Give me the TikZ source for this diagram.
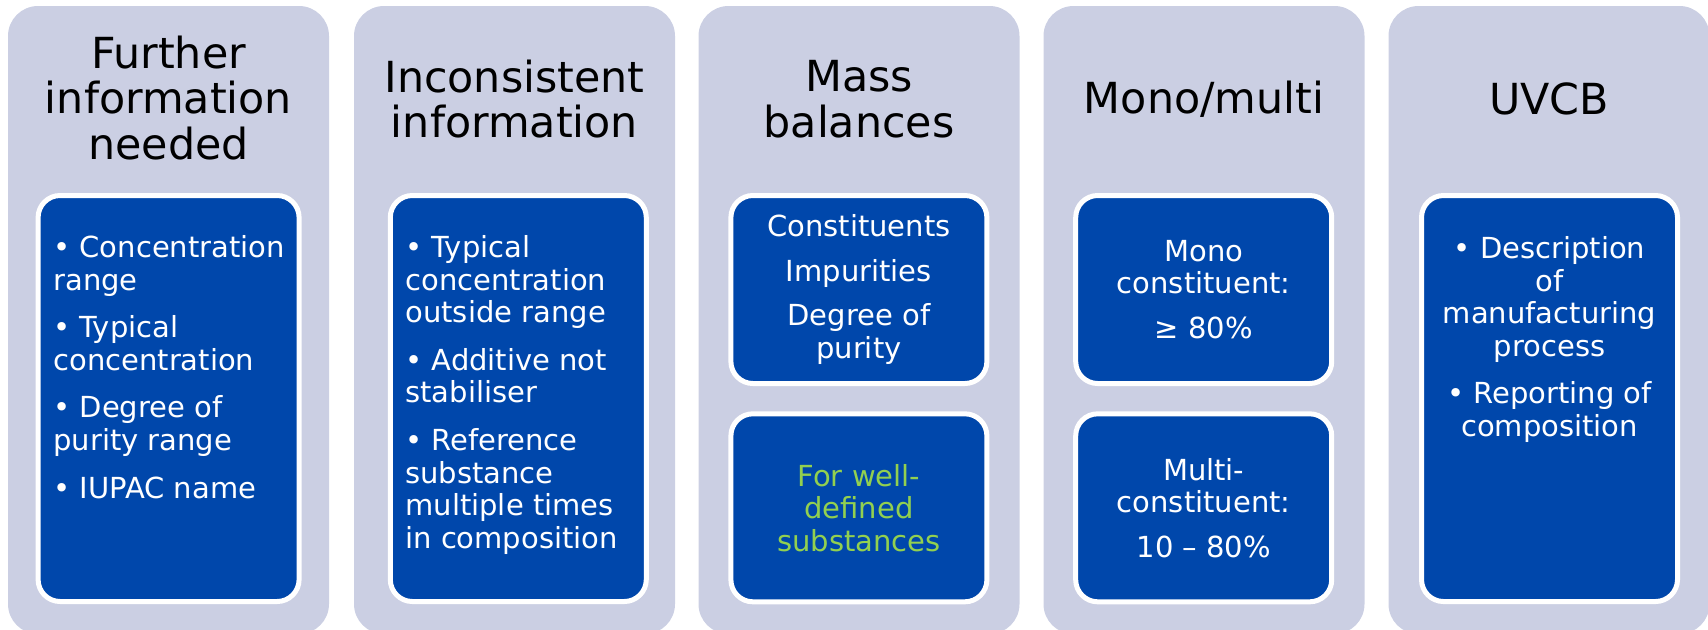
\documentclass[tikz,border=0pt]{standalone}
\usepackage{fontspec}
\setmainfont{DejaVu Sans}
\definecolor{lav}{RGB}{203,207,227}
\definecolor{blu}{RGB}{0,71,171}
\definecolor{grn}{RGB}{146,208,80}
\tikzset{
  col/.style={fill=lav, rounded corners=15pt, minimum width=160.5pt, minimum height=314pt, inner sep=0pt},
  box/.style={fill=blu, draw=white, line width=2.5pt, rounded corners=11pt, minimum width=128pt, inner sep=0pt},
  ttl/.style={font=\fontsize{21.4}{22.9}\selectfont, align=center},
  txt/.style={font=\fontsize{14.5}{16.3}\selectfont, text=white, inner sep=0pt}
}
\begin{document}
\begin{tikzpicture}[x=0.5pt,y=-0.5pt]
\useasboundingbox (0,0) rectangle (1708,629);
\node[col] (c1) at (168.5,320) {};
\node[col] (c2) at (514.5,320) {};
\node[col] (c3) at (859,320) {};
\node[col] (c4) at (1204,320) {};
\node[col] (c5) at (1549,320) {};

\node[ttl] (t1) at (168.5,98) {Further\\information\\needed};
\node[ttl] (t2) at (514.5,99) {Inconsistent\\information};
\node[ttl] (t3) at (859,99) {Mass\\balances};
\node[ttl] (t4) at (1204,99) {Mono/multi};
\node[ttl] (t5) at (1549,99) {UVCB};

\node[box, minimum width=130.5pt, minimum height=203pt] (b1) at (168.6,398.5) {};
\node[box, minimum height=203pt] (b2) at (518.3,398.5) {};
\node[box, minimum height=94pt] (b3) at (858.9,289.5) {};
\node[box, minimum height=94pt] (b4) at (858.9,507.8) {};
\node[box, minimum height=94pt] (b5) at (1203.7,289.5) {};
\node[box, minimum height=94pt] (b6) at (1203.7,507.8) {};
\node[box, minimum height=203pt] (b7) at (1549.5,398.5) {};

\node[txt, align=left, anchor=north west] (l1) at (53,235)
  {• Concentration\\range\\[7.5pt]• Typical\\concentration\\[7.5pt]• Degree of\\purity range\\[7.5pt]• IUPAC name};
\node[txt, align=left, anchor=north west] (l2) at (405,235)
  {• Typical\\concentration\\outside range\\[7.5pt]• Additive not\\stabiliser\\[7.5pt]• Reference\\substance\\multiple times\\in composition};
\node[txt, align=center] (l3) at (b3) {Constituents\\[6pt]Impurities\\[6pt]Degree of\\purity};
\node[txt, align=center, text=grn] (l4) at (b4) {For well-\\defined\\substances};
\node[txt, align=center] (l5) at (b5) {Mono\\constituent:\\[6pt]≥ 80\%};
\node[txt, align=center] (l6) at (b6) {Multi-\\constituent:\\[6pt]10 – 80\%};
\node[txt, align=center, anchor=north] (l7) at (1549.5,236)
  {• Description\\of\\manufacturing\\process\\[7.5pt]• Reporting of\\composition};
\end{tikzpicture}
\end{document}
